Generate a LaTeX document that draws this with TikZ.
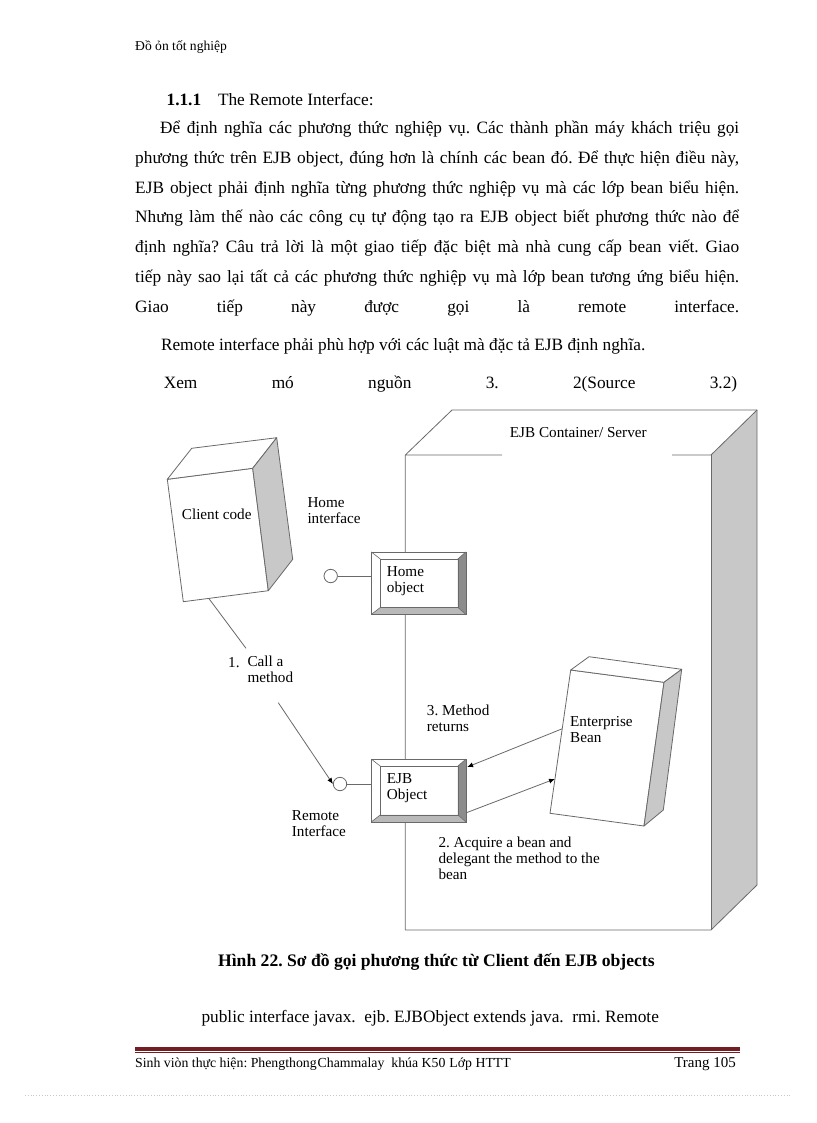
\documentclass[tikz,border=0pt]{standalone}
\usepackage{fontspec}
\setmainfont{Liberation Serif}
\usetikzlibrary{arrows.meta,calc}
\frenchspacing
\definecolor{lineg}{RGB}{105,105,105}
\definecolor{shadeg}{RGB}{200,200,200}
\definecolor{bevdark}{RGB}{140,140,140}
\definecolor{bevmid}{RGB}{185,185,185}
\definecolor{footred}{RGB}{115,30,35}
\definecolor{dotg}{RGB}{200,200,200}
\tikzset{
  body/.style={anchor=base west, inner sep=0pt, font=\fontsize{17.3}{20}\selectfont},
  lbl/.style={anchor=north west, inner sep=0pt, align=left, font=\fontsize{15.2}{16}\selectfont},
  lblb/.style={anchor=base west, inner sep=0pt, font=\fontsize{15.2}{16}\selectfont},
  edge3d/.style={draw=lineg, line width=0.8pt, line join=round},
  face/.style={edge3d, fill=white},
  sideface/.style={edge3d, fill=shadeg},
  bevelbox/.style={draw=lineg, line width=0.8pt, fill=white, inner sep=0pt, minimum width=93.8pt, minimum height=62pt},
  iface/.style={circle, draw=lineg, line width=0.8pt, fill=white, inner sep=0pt, minimum size=13.4pt},
  conn/.style={draw=lineg, line width=0.8pt},
  arr/.style={conn, -{Latex[length=6pt,width=5pt,color=black]}},
  small/.style={inner sep=0pt, font=\fontsize{13.8}{16}\selectfont},
}
\newcommand\bevelfill[1]{%
  \fill[bevdark] (#1.north east) -- (#1.south east) -- ([shift={(-8,-7)}]#1.south east) -- ([shift={(-8,7)}]#1.north east) -- cycle;
  \fill[bevmid] (#1.south west) -- (#1.south east) -- ([shift={(-8,-7)}]#1.south east) -- ([shift={(9,-7)}]#1.south west) -- cycle;
  \draw[lineg, line width=0.6pt] ([shift={(9,7)}]#1.north west) rectangle ([shift={(-8,-7)}]#1.south east);
  \draw[lineg, line width=0.6pt] (#1.north west) -- ([shift={(9,7)}]#1.north west)
     (#1.north east) -- ([shift={(-8,7)}]#1.north east)
     (#1.south east) -- ([shift={(-8,-7)}]#1.south east)
     (#1.south west) -- ([shift={(9,-7)}]#1.south west);
  \draw[lineg, line width=0.8pt] (#1.north west) rectangle (#1.south east);
}
\begin{document}
\begin{tikzpicture}[x=1pt,y=-1pt]
\useasboundingbox[fill=white] (0,0) rectangle (816,1123);

% ---------- page text ----------
\node[small, anchor=base west, font=\fontsize{13.6}{15}\selectfont] (hdr) at (135,51) {Đồ ỏn tốt nghiệp};
\node[body] (sec) at (166.4,105.5) {\textbf{1.1.1}\hspace{16.8pt}The Remote Interface:};
\node[body] (p1) at (160,133.8) {\makebox[579pt][s]{Để định nghĩa các phương thức nghiệp vụ. Các thành phần máy khách triệu gọi}};
\node[body] (p2) at (135,163.5) {\makebox[604pt][s]{phương thức trên EJB object, đúng hơn là chính các bean đó. Để thực hiện điều này,}};
\node[body] (p3) at (135,193.2) {\makebox[604pt][s]{EJB object phải định nghĩa từng phương thức nghiệp vụ mà các lớp bean biểu hiện.}};
\node[body] (p4) at (135,222.9) {\makebox[604pt][s]{Nhưng làm thế nào các công cụ tự động tạo ra EJB object biết phương thức nào để}};
\node[body] (p5) at (135,252.6) {\makebox[604pt][s]{định nghĩa? Câu trả lời là một giao tiếp đặc biệt mà nhà cung cấp bean viết. Giao}};
\node[body] (p6) at (135,282.3) {\makebox[604pt][s]{tiếp này sao lại tất cả các phương thức nghiệp vụ mà lớp bean tương ứng biểu hiện.}};
\node[body] (p7) at (135,312) {\makebox[604pt][s]{Giao tiếp này được gọi là remote interface.}};
\node[body] (p8) at (160.8,350.5) {Remote interface phải phù hợp với các luật mà đặc tả EJB định nghĩa.};
\node[body] (p9) at (163.6,388.5) {\makebox[573.4pt][s]{Xem mó nguồn 3. 2(Source 3.2)}};

% ---------- EJB container ----------
\coordinate (cFL) at (405.3,455);
\coordinate (cFR) at (711,455);
\coordinate (cBL) at (452,410);
\coordinate (cBR) at (757,410);
\coordinate (cBRb) at (757,885);
\coordinate (cFRb) at (711,930);
\coordinate (cFLb) at (405.3,930);
\fill[shadeg] (cFR) -- (cBR) -- (cBRb) -- (cFRb) -- cycle;
\draw[edge3d] (502,455) -- (cFL) -- (cBL) -- (cBR) -- (cBRb) -- (cFRb) -- (cFLb) -- (cFL);
\draw[edge3d] (672,455) -- (cFR) -- (cBR);
\draw[edge3d] (cFR) -- (cFRb);
\node[lblb, anchor=base] (ctitle) at (578.3,437) {EJB Container/ Server};

% ---------- Client code box ----------
\coordinate (kFTL) at (167.3,479.3);
\coordinate (kFTR) at (252.7,468.3);
\coordinate (kFBR) at (268.3,590.7);
\coordinate (kFBL) at (183.3,601.7);
\coordinate (kBTL) at (191.7,448.3);
\coordinate (kBTR) at (276.7,437.7);
\coordinate (kBBR) at (292.7,559.3);
\draw[face] (kFTL) -- (kFTR) -- (kFBR) -- (kFBL) -- cycle;
\draw[face] (kFTL) -- (kBTL) -- (kBTR) -- (kFTR) -- cycle;
\draw[sideface] (kFTR) -- (kBTR) -- (kBBR) -- (kFBR) -- cycle;
\node[lblb] (clientLbl) at (181.7,519.5) {Client code};

% ---------- Enterprise bean box ----------
\coordinate (bFTL) at (570.7,670);
\coordinate (bFTR) at (664,682.3);
\coordinate (bFBR) at (644,826);
\coordinate (bFBL) at (550,813.3);
\coordinate (bBTL) at (589,656.7);
\coordinate (bBTR) at (681.7,669.3);
\coordinate (bBBR) at (663.3,810);
\draw[face] (bFTL) -- (bFTR) -- (bFBR) -- (bFBL) -- cycle;
\draw[face] (bFTL) -- (bBTL) -- (bBTR) -- (bFTR) -- cycle;
\draw[sideface] (bFTR) -- (bBTR) -- (bBBR) -- (bFBR) -- cycle;
\node[lbl] (beanLbl) at (570,716.2) {Enterprise\\Bean};

% ---------- Home object / EJB object ----------
\node[bevelbox, minimum height=61.7pt] (home) at (418.6,583.2) {};
\bevelfill{home}
\node[lbl] (homeLbl) at (386.7,566.8) {Home\\object};
\node[bevelbox] (ejb) at (418.6,790.5) {};
\bevelfill{ejb}
\node[lbl] (ejbLbl) at (386.7,773.8) {EJB\\Object};

% ---------- interfaces ----------
\node[iface] (hcirc) at (330.7,576) {};
\draw[conn] (hcirc.east) -- (hcirc.east -| home.west);
\node[lbl] (homeIfLbl) at (307.3,497.2) {Home\\interface};

\node[iface] (rcirc) at (340,784) {};
\draw[conn] (rcirc.east) -- (rcirc.east -| ejb.west);
\node[lbl] (remIfLbl) at (291.7,810.5) {Remote\\Interface};

% ---------- call a method ----------
\coordinate (clientFoot) at ($(kFBL)!0.3!(kFBR)$);
\coordinate (callEnd) at (246,648.3);
\draw[conn] (clientFoot) -- (callEnd);
\node[lblb] (callNum) at (228,667) {1.};
\node[lbl] (callLbl) at (247.3,656.2) {Call a\\method};
\coordinate (callStart) at (278.3,702.7);
\draw[arr] (callStart) -- (rcirc.west);

% ---------- method returns / acquire ----------
\draw[arr] ($(bFTL)!0.41!(bFBL)$) -- ([shift={(1.2,8)}]ejb.north east);
\node[lbl] (retLbl) at (426.7,704.5) {3. Method\\returns};
\draw[arr] ([shift={(0,-9)}]ejb.south east) -- ($(bFTL)!0.76!(bFBL)$);
\node[lbl] (acqLbl) at (438.3,836.8) {2. Acquire a bean and\\delegant the method to the\\bean};

% ---------- caption & code ----------
\node[anchor=base, inner sep=0pt, font=\bfseries\fontsize{17.6}{20}\selectfont] (cap) at (436.4,966) {Hình 22. Sơ đồ gọi phương thức từ Client đến EJB objects};
\node[anchor=base, inner sep=0pt, font=\fontsize{17.3}{20}\selectfont] (code) at (430.2,1022.5) {public interface javax.\ \ ejb. EJBObject extends java.\ \ rmi. Remote};

% ---------- footer ----------
\fill[footred] (135,1046.5) rectangle (740,1050.5);
\draw[footred, line width=1pt] (135,1052.3) -- (740,1052.3);
\node[small, anchor=base west] (footL) at (135,1067) {Sinh viòn thực hiện: Phengthong\hspace{1pt}Chammalay\hspace{7pt}khúa K50\hspace{4pt}Lớp HTTT};
\node[small, anchor=base east, font=\fontsize{15}{16}\selectfont] (footR) at (736,1067) {Trang 105};
\draw[dotg, dotted, line width=0.8pt] (25,1095) -- (790,1095);
\end{tikzpicture}
\end{document}
